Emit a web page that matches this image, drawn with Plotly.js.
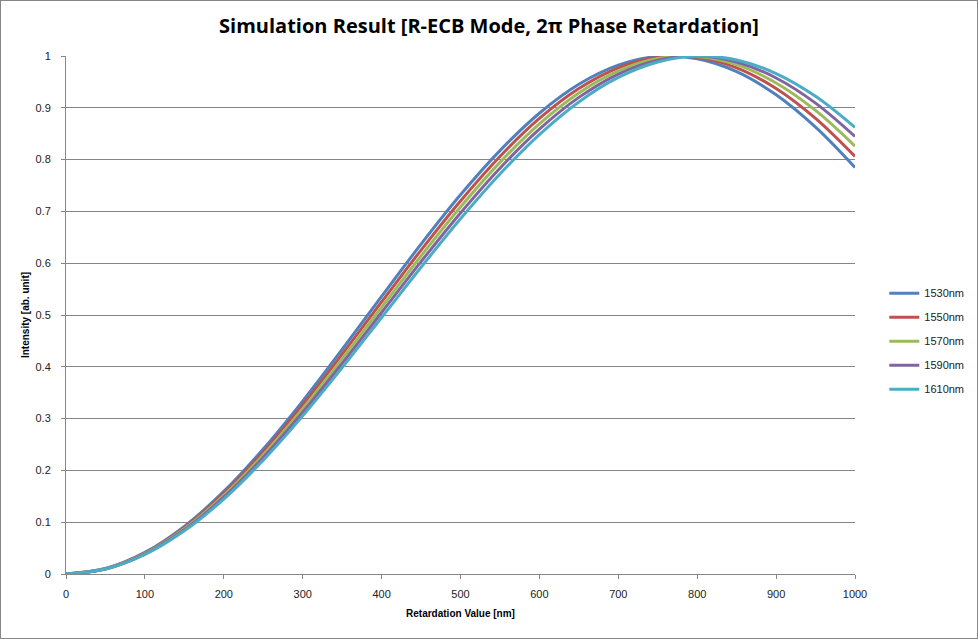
<!DOCTYPE html>
<html>
<head>
<meta charset="utf-8">
<script src="https://cdn.plot.ly/plotly-3.0.1.min.js"></script>
<style>
    body { margin: 0; background: #fff; }
    #chart { width: 976px; height: 637px; border: 1px solid #868686; }
</style>
</head>
<body>
<div id="chart"></div>
<script>
// Retardation values (nm) and read-off intensities for each wavelength
const retardation = [0, 50, 100, 150, 200, 250, 300, 350, 400, 450, 500,
    550, 600, 650, 700, 750, 800, 850, 900, 950, 1000]

const wavelengths = ["1530nm", "1550nm", "1570nm", "1590nm", "1610nm"]

const i1530 = [0, 0.0105, 0.0416, 0.0919, 0.1594, 0.2412, 0.3338, 0.4335, 0.5359, 0.6368, 0.7320,
    0.8174, 0.8895, 0.9453, 0.9823, 0.9991, 0.9948, 0.9699, 0.9251, 0.8625, 0.7847]
const i1550 = [0, 0.0102, 0.0405, 0.0896, 0.1555, 0.2355, 0.3264, 0.4243, 0.5253, 0.6253, 0.7202,
    0.8061, 0.8794, 0.9372, 0.9771, 0.9974, 0.9974, 0.9771, 0.9372, 0.8794, 0.8060]
const i1570 = [0, 0.0100, 0.0395, 0.0874, 0.1518, 0.2301, 0.3191, 0.4154, 0.5150, 0.6140, 0.7085,
    0.7947, 0.8691, 0.9288, 0.9713, 0.9951, 0.9991, 0.9832, 0.9480, 0.8949, 0.8261]
const i1590 = [0, 0.0097, 0.0385, 0.0853, 0.1482, 0.2248, 0.3121, 0.4067, 0.5049, 0.6030, 0.6970,
    0.7834, 0.8588, 0.9201, 0.9652, 0.9921, 0.9999, 0.9882, 0.9576, 0.9091, 0.8447]
const i1610 = [0, 0.0095, 0.0376, 0.0833, 0.1447, 0.2197, 0.3053, 0.3983, 0.4951, 0.5922, 0.6857,
    0.7722, 0.8483, 0.9113, 0.9586, 0.9885, 0.9999, 0.9923, 0.9660, 0.9221, 0.8621]

const series = [i1530, i1550, i1570, i1590, i1610]
const colors = ['#4F81BD', '#C0504D', '#9BBB59', '#8064A2', '#4BACC6']

const traces = []
for (let i = 0; i < series.length; i++) {
    traces.push({
        name: wavelengths[i],
        x: retardation,
        y: series[i],
        mode: 'lines',
        type: 'scatter',
        line: {color: colors[i], width: 3, shape: 'spline'},
        legendgroup: wavelengths[i],
    })
}

const tickFont = {family: 'Liberation Sans, Arial, sans-serif', size: 11, color: '#222'}

const layout = {
    width: 976,
    height: 637,
    margin: {l: 65, r: 122, t: 55, b: 64},
    paper_bgcolor: '#fff',
    plot_bgcolor: '#fff',
    title: {
        text: '<b>Simulation Result [R-ECB Mode, 2π Phase Retardation]</b>',
        font: {family: 'Open Sans, Liberation Sans, sans-serif', size: 20, color: '#000'},
        x: 0.5,
        xanchor: 'center',
        y: 0.96,
        yanchor: 'middle',
    },
    xaxis: {
        range: [0, 1000],
        tickvals: [0, 100, 200, 300, 400, 500, 600, 700, 800, 900, 1000],
        showgrid: false,
        zeroline: false,
        showline: true,
        linecolor: '#868686',
        linewidth: 1,
        ticks: 'outside',
        ticklen: 4,
        tickcolor: '#868686',
        ticklabelstandoff: 6,
        tickfont: tickFont,
        title: {
            text: '<b>Retardation Value [nm]</b>',
            font: {family: 'Liberation Sans, Arial, sans-serif', size: 10, color: '#000'},
            standoff: 10,
        },
    },
    yaxis: {
        range: [0, 1],
        tickvals: [0, 0.1, 0.2, 0.3, 0.4, 0.5, 0.6, 0.7, 0.8, 0.9, 1],
        ticktext: ['0', '0.1', '0.2', '0.3', '0.4', '0.5', '0.6', '0.7', '0.8', '0.9', '1'],
        showgrid: true,
        gridcolor: '#868686',
        gridwidth: 1,
        zeroline: false,
        showline: true,
        linecolor: '#868686',
        linewidth: 1,
        ticks: 'outside',
        ticklen: 4,
        tickcolor: '#868686',
        ticklabelstandoff: 8,
        tickfont: tickFont,
        title: {
            text: '<b>Intensity [ab. unit]</b>',
            font: {family: 'Liberation Sans, Arial, sans-serif', size: 10, color: '#000'},
            standoff: 4,
        },
    },
    legend: {
        xref: 'container',
        yref: 'container',
        x: 0.905,
        xanchor: 'left',
        y: 0.466,
        yanchor: 'middle',
        font: {family: 'Liberation Sans, Arial, sans-serif', size: 11, color: '#222'},
        itemwidth: 30,
        tracegroupgap: 5,
        bgcolor: 'rgba(0,0,0,0)',
    },
}

Plotly.newPlot('chart', traces, layout, {displayModeBar: false, staticPlot: true})
</script>
</body>
</html>
